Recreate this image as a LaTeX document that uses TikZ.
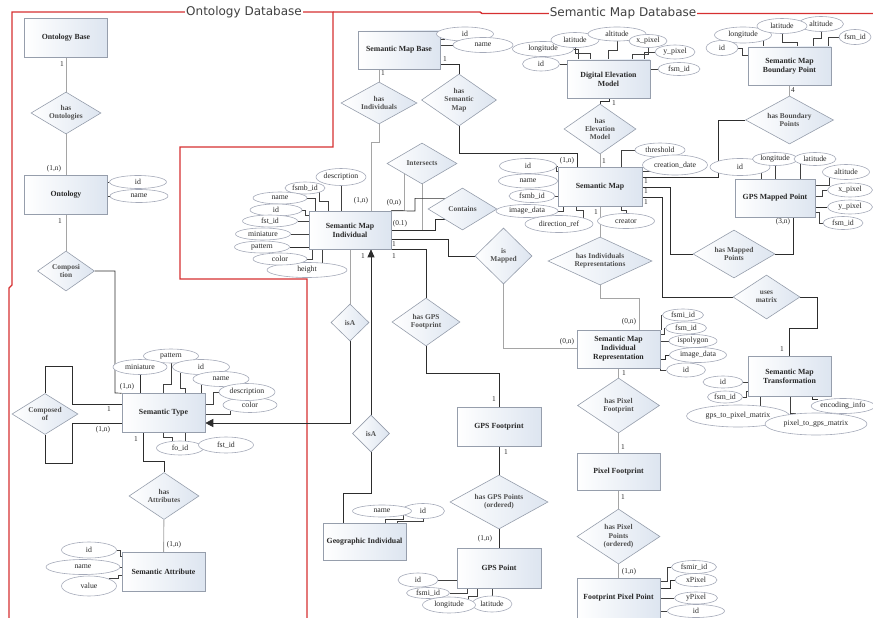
\documentclass[tikz,border=0pt]{standalone}
\usepackage{fontspec}
\setmainfont{Liberation Serif}
\newfontfamily\titlefont{DejaVu Sans}
\usetikzlibrary{shapes.geometric,arrows.meta,backgrounds}
\definecolor{frame}{RGB}{214,48,49}
\definecolor{entfill}{RGB}{221,229,240}
\definecolor{entdraw}{RGB}{150,158,172}
\definecolor{attdraw}{RGB}{165,170,185}
\definecolor{gline}{RGB}{165,165,165}
\definecolor{dline}{RGB}{45,45,45}
\definecolor{txt}{RGB}{40,40,40}
\definecolor{reltxt}{RGB}{80,80,80}
\begin{document}
\begin{tikzpicture}[x=1pt,y=-1pt,
 ent/.style={rectangle, draw=entdraw, line width=0.6pt, left color=white, right color=entfill, minimum width=83pt, minimum height=39pt, inner sep=1pt, align=center, text=txt, font=\fontsize{7.8}{9}\selectfont\bfseries},
 rel/.style={diamond, draw=entdraw, line width=0.6pt, left color=white, right color=entfill, inner sep=0pt},
 rlab/.style={align=center, text=reltxt, inner sep=0pt, font=\fontsize{7.4}{8.4}\selectfont\bfseries},
 att/.style={ellipse, draw=attdraw, line width=0.6pt, fill=white, inner sep=0pt, text=txt, font=\fontsize{7.8}{9}\selectfont},
 card/.style={text=txt, font=\fontsize{7.4}{8}\selectfont, inner sep=0pt},
 gl/.style={draw=gline, line width=0.9pt},
 dl/.style={draw=dline, line width=0.7pt},
 al/.style={draw=black!75, line width=0.6pt},
 redl/.style={draw=frame, line width=1.4pt},
 ttl/.style={fill=white, inner xsep=1pt, inner ysep=0pt, text=black!75, font=\titlefont\fontsize{12}{13}\selectfont}
]
\useasboundingbox (0,0) rectangle (873,618);

% ---------- entities ----------
\node[ent] (ob) at (66,38) {Ontology Base};
\node[ent] (ont) at (66,195) {Ontology};
\node[ent] (st) at (163.5,413) {Semantic Type};
\node[ent] (sa) at (163.5,572) {Semantic Attribute};
\node[ent, minimum width=82pt, minimum height=38pt] (smb) at (399,50) {Semantic Map Base};
\node[ent, minimum height=38pt] (dem) at (608.5,79) {Digital Elevation\\Model};
\node[ent, minimum height=38pt] (smbp) at (789.5,66) {Semantic Map\\Boundary Point};
\node[ent, minimum width=84pt] (sm) at (600,186.5) {Semantic Map};
\node[ent, minimum width=80pt, minimum height=38pt] (gmp) at (775,198) {GPS Mapped Point};
\node[ent, minimum width=82pt, minimum height=38pt] (smi) at (350,230) {Semantic Map\\Individual};
\node[ent, minimum height=38pt] (smir) at (618.5,349) {Semantic Map\\Individual\\Representation};
\node[ent, minimum height=40pt] (smt) at (789.5,376) {Semantic Map\\Transformation};
\node[ent, minimum width=84pt] (gf) at (499,426.5) {GPS Footprint};
\node[ent, minimum height=37pt] (pf) at (618.5,471.5) {Pixel Footprint};
\node[ent, minimum height=37pt] (gi) at (364.5,541.5) {Geographic Individual};
\node[ent, minimum width=84pt, minimum height=40pt] (gp) at (499,568) {GPS Point};
\node[ent, minimum height=40pt] (fpp) at (618.5,598) {Footprint Pixel Point};

% ---------- relationships ----------
\node[rel, minimum width=70pt, minimum height=42pt, label={[rlab]center:has\\Ontologies}] (hO) at (66,113) {};
\node[rel, minimum width=57pt, minimum height=40pt, label={[rlab]center:Composi\\tion}] (comp) at (66,271) {};
\node[rel, minimum width=66pt, minimum height=41pt, label={[rlab]center:Composed\\of}] (cof) at (45,414) {};
\node[rel, minimum width=70pt, minimum height=47pt, label={[rlab]center:has\\Attributes}] (hA) at (164,496) {};
\node[rel, minimum width=76pt, minimum height=42pt, label={[rlab]center:has\\Individuals}] (hI) at (379,103) {};
\node[rel, minimum width=75pt, minimum height=52pt, label={[rlab]center:has\\Semantic\\Map}] (hSM) at (459,100) {};
\node[rel, minimum width=72pt, minimum height=50pt, label={[rlab]center:has\\Elevation\\Model}] (hEM) at (600,129) {};
\node[rel, minimum width=88pt, minimum height=48pt, label={[rlab]center:has Boundary\\Points}] (hBP) at (789.5,120) {};
\node[rel, minimum width=70pt, minimum height=41pt, label={[rlab]center:Intersects}] (inter) at (422,163.5) {};
\node[rel, minimum width=69pt, minimum height=42pt, label={[rlab]center:Contains}] (cont) at (462.5,209) {};
\node[rel, minimum width=57pt, minimum height=56pt, label={[rlab]center:is\\Mapped}] (isM) at (503.5,256) {};
\node[rel, minimum width=104pt, minimum height=48pt, label={[rlab]center:has Individuals\\Representations}] (hIR) at (600,261) {};
\node[rel, minimum width=82pt, minimum height=48pt, label={[rlab]center:has Mapped\\Points}] (hMP) at (734,254) {};
\node[rel, minimum width=67pt, minimum height=44pt, label={[rlab]center:uses\\matrix}] (um) at (766.5,297) {};
\node[rel, minimum width=68pt, minimum height=48pt, label={[rlab]center:has GPS\\Footprint}] (hGF) at (426,322) {};
\node[rel, minimum width=38pt, minimum height=37pt, label={[rlab]center:isA}] (isA1) at (350,322.5) {};
\node[rel, minimum width=37pt, minimum height=37pt, label={[rlab]center:isA}] (isA2) at (371,433.5) {};
\node[rel, minimum width=82pt, minimum height=55pt, label={[rlab]center:has Pixel\\Footprint}] (hPF) at (618.5,405.5) {};
\node[rel, minimum width=98pt, minimum height=54pt, label={[rlab]center:has GPS Points\\(ordered)}] (hGP) at (499,502) {};
\node[rel, minimum width=83pt, minimum height=55pt, label={[rlab]center:has Pixel\\Points\\(ordered)}] (hPP) at (618.5,536.5) {};

% ---------- attributes ----------
% Ontology
\node[att, minimum width=57pt, minimum height=13pt] (oid) at (138,182) {id};
\node[att, minimum width=58pt, minimum height=13pt] (oname) at (139,196) {name};
% Semantic Map Base
\node[att, minimum width=57pt, minimum height=14pt] (sbid) at (465,34) {id};
\node[att, minimum width=60pt, minimum height=15pt] (sbname) at (483,45) {name};
% Digital Elevation Model
\node[att, minimum width=61pt, minimum height=15pt] (dlon) at (543,49) {longitude};
\node[att, minimum width=37pt, minimum height=14pt] (did) at (541,64) {id};
\node[att, minimum width=48pt, minimum height=15pt] (dlat) at (575,40) {latitude};
\node[att, minimum width=58pt, minimum height=14pt] (dalt) at (617,34) {altitude};
\node[att, minimum width=38pt, minimum height=13pt] (dxp) at (648,41) {x\_pixel};
\node[att, minimum width=40pt, minimum height=14pt] (dyp) at (675,52) {y\_pixel};
\node[att, minimum width=42pt, minimum height=13pt] (dfsm) at (679,69) {fsm\_id};
% Semantic Map Boundary Point
\node[att, minimum width=45pt, minimum height=15pt] (palt) at (821,24) {altitude};
\node[att, minimum width=57pt, minimum height=16pt] (plon) at (743,35) {longitude};
\node[att, minimum width=50pt, minimum height=15pt] (plat) at (782,26) {latitude};
\node[att, minimum width=32pt, minimum height=15pt] (pfsm) at (855,37) {fsm\_id};
\node[att, minimum width=32pt, minimum height=15pt] (pid) at (722,48) {id};
% Semantic Map
\node[att, minimum width=57pt, minimum height=15pt] (mid) at (528,166) {id};
\node[att, minimum width=59pt, minimum height=14pt] (mname) at (528,181) {name};
\node[att, minimum width=46pt, minimum height=13pt] (mfsmb) at (532,196) {fsmb\_id};
\node[att, minimum width=62pt, minimum height=13pt] (mimg) at (527,211) {image\_data};
\node[att, minimum width=68pt, minimum height=17pt] (mdir) at (559,224) {direction\_ref};
\node[att, minimum width=57pt, minimum height=15pt] (mcre) at (626,221) {creator};
\node[att, minimum width=50pt, minimum height=14pt] (mthr) at (660,150) {threshold};
\node[att, minimum width=65pt, minimum height=20pt] (mcd) at (675,165) {creation\_date};
% GPS Mapped Point
\node[att, minimum width=60pt, minimum height=17pt] (gid) at (740,167) {id};
\node[att, minimum width=45pt, minimum height=13pt] (glon) at (775,159) {longitude};
\node[att, minimum width=42pt, minimum height=13pt] (glat) at (815,159) {latitude};
\node[att, minimum width=47pt, minimum height=15pt] (galt) at (846,172) {altitude};
\node[att, minimum width=45pt, minimum height=14pt] (gxp) at (850,190) {x\_pixel};
\node[att, minimum width=45pt, minimum height=14pt] (gyp) at (850,207) {y\_pixel};
\node[att, minimum width=40pt, minimum height=13pt] (gfsm) at (843,223) {fsm\_id};
% Semantic Map Individual
\node[att, minimum width=50pt, minimum height=17pt] (idesc) at (341,177) {description};
\node[att, minimum width=40pt, minimum height=12pt] (ifsmb) at (305,188) {fsmb\_id};
\node[att, minimum width=54pt, minimum height=12pt] (iname) at (280,198) {name};
\node[att, minimum width=52pt, minimum height=12pt] (iid) at (276,210) {id};
\node[att, minimum width=55pt, minimum height=12pt] (ifst) at (270,221) {fst\_id};
\node[att, minimum width=55pt, minimum height=12pt] (imin) at (263,234) {miniature};
\node[att, minimum width=55pt, minimum height=12pt] (ipat) at (262,247) {pattern};
\node[att, minimum width=80pt, minimum height=15pt] (ihei) at (307,270) {height};
\node[att, minimum width=54pt, minimum height=12pt] (icol) at (280,259) {color};
% Semantic Type
\node[att, minimum width=55pt, minimum height=14pt] (tpat) at (171,356) {pattern};
\node[att, minimum width=54pt, minimum height=15pt] (tmin) at (140,367) {miniature};
\node[att, minimum width=57pt, minimum height=15pt] (tid) at (201,367) {id};
\node[att, minimum width=56pt, minimum height=15pt] (tname) at (221,379) {name};
\node[att, minimum width=54pt, minimum height=15pt] (tcol) at (250,405) {color};
\node[att, minimum width=56pt, minimum height=17pt] (tdesc) at (247,392) {description};
\node[att, minimum width=47pt, minimum height=14pt] (tfo) at (180,448) {fo\_id};
\node[att, minimum width=55pt, minimum height=16pt] (tfst) at (226,445) {fst\_id};
% Semantic Attribute
\node[att, minimum width=55pt, minimum height=16pt] (aid) at (89,550) {id};
\node[att, minimum width=55pt, minimum height=20pt] (aval) at (89,586) {value};
\node[att, minimum width=74pt, minimum height=15pt] (aname) at (83,567) {name};
% Semantic Map Individual Representation
\node[att, minimum width=41pt, minimum height=12pt] (rfsmi) at (683,315) {fsmi\_id};
\node[att, minimum width=41pt, minimum height=12pt] (rfsm) at (686,328) {fsm\_id};
\node[att, minimum width=48pt, minimum height=13pt] (rpoly) at (693,341) {ispolygon};
\node[att, minimum width=57pt, minimum height=15pt] (rimg) at (698,355) {image\_data};
\node[att, minimum width=39pt, minimum height=14pt] (rid) at (686,370) {id};
% Semantic Map Transformation
\node[att, minimum width=63pt, minimum height=15pt] (xenc) at (843,406) {encoding\_info};
\node[att, minimum width=103pt, minimum height=22pt] (xg2p) at (738,416) {gps\_to\_pixel\_matrix};
\node[att, minimum width=102pt, minimum height=22pt] (xp2g) at (816,424) {pixel\_to\_gps\_matrix};
\node[att, minimum width=35pt, minimum height=12pt] (xfsm) at (725,397) {fsm\_id};
\node[att, minimum width=40pt, minimum height=12pt] (xid) at (723,382) {id};
% Geographic Individual
\node[att, minimum width=43pt, minimum height=15pt] (gid2) at (423,511) {id};
\node[att, minimum width=59pt, minimum height=12pt] (gname) at (382,511) {name};
% GPS Point
\node[att, minimum width=40pt, minimum height=14pt] (qid) at (418,580) {id};
\node[att, minimum width=43pt, minimum height=11pt] (qfsmi) at (428,593) {fsmi\_id};
\node[att, minimum width=40pt, minimum height=16pt] (qlat) at (492,604) {latitude};
\node[att, minimum width=53pt, minimum height=16pt] (qlon) at (449,605) {longitude};
% Footprint Pixel Point
\node[att, minimum width=45pt, minimum height=13pt] (ffsmir) at (694,567) {fsmir\_id};
\node[att, minimum width=42pt, minimum height=13pt] (fxp) at (696,580) {xPixel};
\node[att, minimum width=43pt, minimum height=12pt] (fyp) at (696,598) {yPixel};
\node[att, minimum width=57pt, minimum height=13pt] (fid) at (696,611) {id};

% ---------- background: frames and connectors ----------
\begin{scope}[on background layer]
\draw[redl] (9,618) -- (9,288) -- (12,285) -- (12,12) -- (333,12) -- (333,147) -- (180,147) -- (180,279) -- (307,279) -- (307,618);
\draw[redl] (333,12) -- (480,12) -- (482,13.5) -- (873,13.5);

% ontology side
\draw[gl] (ob) -- (hO);
\draw[gl] (hO) -- (ont);
\draw[gl] (ont) -- (comp);
\draw[dl] (comp.east) -| (115,393) -- (st.north west);
\draw[dl] (cof.north) |- (72,366) |- (st.west |- 0,404);
\draw[dl] (cof.south) |- (72,463) |- (st.west |- 0,423);
\draw[dl] (st.south -| 143,0) |- (164,461) -- (hA.north);
\draw[gl] (hA) -- (sa);

% semantic map side
\draw[gl] (smb.south -| hI.north) -- (hI.north);
\draw[dl] (smb.east |- 0,64) -| (hSM.north);
\draw[gl] (hI.south) |- (371,142) -- (smi.north -| 371,0);
\draw[dl] (hSM.south) |- (577,153) -- (sm.north -| 577,0);
\draw[dl] (dem.south -| 609,0) |- (600,101) -- (hEM.north);
\draw[gl] (hEM) -- (sm);
\draw[gl] (smbp) -- (hBP);
\draw[dl] (hBP.west) -| (718,177) -- (sm.east |- 0,177);
\draw[dl] (sm.east |- 0,187) -| (670,254) -- (hMP.west);
\draw[dl] (sm.east |- 0,197) -| (662,297) -- (um.west);
\draw[dl] (hMP.east) -| (gmp.south -| 793,0);
\draw[dl] (um.east) -| (817,328) -| (smt.north -| 789,0);
\draw[gl] (sm) -- (hIR);
\draw[gl] (hIR.south) |- (639,298) -- (smir.north -| 639,0);
\draw[dl] (smi.east |- 0,239) -| (448,256) -- (isM.west);
\draw[gl] (isM.south) |- (smir.west |- 0,348);
\draw[gl] (inter.south west) |- (smi.north east);
\draw[gl] (inter.south) |- (smi.east |- 0,230);
\draw[dl] (smi.north east) -- (415,211) |- (cont.north west);
\draw[dl] (smi.east |- 0,230) -- (435,230) |- (cont.south west);
\draw[dl] (smi.south east) -| (hGF.north);
\draw[dl] (hGF.south) |- (499,373) -- (gf.north);
\draw[dl] (gf) -- (hGP);
\draw[dl] (hGP) -- (gp);
\draw[gl] (smir) -- (hPF);
\draw[gl] (hPF) -- (pf);
\draw[gl] (pf) -- (hPP);
\draw[gl] (hPP) -- (fpp);
\draw[gl] (smi.south -| isA1.north) -- (isA1.north);
\draw[dl, -{Triangle[length=8pt,width=8pt]}] (isA1.south) |- (st.east |- 0,423);
\draw[dl, -{Triangle[length=8pt,width=7pt]}] (isA2.north) -- (smi.south -| isA2.north);
\draw[dl] (gi.north -| 343,0) |- (371,493) -- (isA2.south);

% attribute connectors
\draw[al] (oid.west) -- (oid.west -| ont.east);
\draw[al] (oname.west) -- (oname.west -| ont.east);
\draw[al] (smb.east |- sbid.south west) -- (sbid.south west);
\draw[al] (smb.east |- sbname.west) -- (sbname.west);
\draw[al] (dlon.east) -| (dem.north -| 578,0);
\draw[al] (did.east) -- (did.east -| dem.west);
\draw[al] (dlat.south) |- (590,53) -- (dem.north -| 590,0);
\draw[al] (dalt.south) |- (608,50) -- (dem.north -| 608,0);
\draw[al] (dxp.south) |- (632,54) -- (dem.north -| 632,0);
\draw[al] (dyp.west) -| (dem.north -| 644,0);
\draw[al] (dfsm.west) -- (dfsm.west -| dem.east);
\draw[al] (plon.south east) -- (plon.south east |- smbp.north);
\draw[al] (plat.south) |- (797,42) -- (smbp.north -| 797,0);
\draw[al] (palt.south) |- (813,38) -- (smbp.north -| 813,0);
\draw[al] (pfsm.west) -| (smbp.north -| 828,0);
\draw[al] (pid.east) -| (742,55) -- (smbp.west |- 0,55);
\draw[al] (mid.east) -| (556.5,171) -- (sm.west |- 0,171);
\draw[al] (mname.east) -- (mname.east -| sm.west);
\draw[al] (mfsmb.east) -- (mfsmb.east -| sm.west);
\draw[al] (mimg.east) -| (sm.south -| 563,0);
\draw[al] (mdir.north east) |- (576,210) -- (sm.south -| 576,0);
\draw[al] (sm.south -| 621,0) |- (626,210) -- (mcre.north);
\draw[al] (mthr.west) -| (sm.north -| 621,0);
\draw[al] (sm.east |- 0,171) -- (mcd.south west |- 0,171);
\draw[al] (gid.south east) -- (gid.south east |- gmp.north);
\draw[al] (glon.south) -- (glon.south |- gmp.north);
\draw[al] (glat.south west) -- (glat.south west |- gmp.north);
\draw[al] (galt.south west) |- (gmp.east |- 0,185);
\draw[al] (gxp.west) -| (822,196) -- (gmp.east |- 0,196);
\draw[dl] (gyp.west) -- (gyp.west -| gmp.east);
\draw[al] (gfsm.west) -| (819,212) -- (gmp.east |- 0,212);
\draw[al] (idesc.south) -- (idesc.south |- smi.north);
\draw[al] (ifsmb.south east) |- (328,201) -- (smi.north -| 328,0);
\draw[al] (iname.east) -| (smi.north -| 315,0);
\draw[al] (iid.east) -| (305,215) -- (smi.west |- 0,215);
\draw[al] (ifst.east) -- (ifst.east -| smi.west);
\draw[al] (imin.east) -- (imin.east -| smi.west);
\draw[dl] (ipat.east) -- (ipat.east -| smi.west);
\draw[al] (icol.east) -| (smi.south -| 312,0);
\draw[al] (smi.south -| 322,0) -- (322,264);
\draw[dl] (tmin.south) -- (tmin.south |- st.north);
\draw[al] (tpat.south) |- (163,384) -- (st.north -| 163,0);
\draw[al] (tid.south west) |- (185,388) -- (st.north -| 185,0);
\draw[al] (tname.south west) -- (tname.south west |- st.north);
\draw[al] (tdesc.west) -| (213,404) -- (st.east |- 0,404);
\draw[al] (tcol.south west) |- (st.east |- 0,414);
\draw[al] (st.south -| 163,0) |- (172,437) -- (tfo.north -| 172,0);
\draw[al] (st.south -| 185,0) |- (tfst.west);
\draw[al] (aid.east) -| (120,556) -- (sa.west |- 0,556);
\draw[al] (aname.east) -- (aname.east -| sa.west);
\draw[al] (aval.north east) -| (118,575) -- (sa.west |- 0,575);
\draw[al] (rfsmi.west) -| (smir.north -| 661,0);
\draw[al] (rfsm.west) -| (664,334) -- (smir.east |- 0,334);
\draw[al] (rpoly.west) -- (rpoly.west -| smir.east);
\draw[dl] (rimg.west) -| (665,359) -- (smir.east |- 0,359);
\draw[al] (rid.west) -| (smir.east |- 0,366);
\draw[al] (xid.east) -- (xid.east -| smt.west);
\draw[al] (xfsm.east) -| (746,391) -- (smt.west |- 0,391);
\draw[al] (smt.south -| 760,0) -- (760,406);
\draw[al] (smt.south -| 790,0) |- (796,413);
\draw[dl] (smt.south -| 812,0) |- (818,399);
\draw[al] (gname.south east) |- (385,519) -- (gi.north -| 385,0);
\draw[al] (gid2.south) |- (397,521) -- (gi.north -| 397,0);
\draw[al] (qid.east) -- (qid.east -| gp.west);
\draw[al] (qfsmi.east) -| (gp.south -| 467,0);
\draw[al] (qlon.north east) |- (477,596) -- (gp.south -| 477,0);
\draw[al] (qlat.north) -- (qlat.north |- gp.south);
\draw[al] (ffsmir.west) -| (667,581) -- (fpp.east |- 0,581);
\draw[dl] (fxp.west) -| (670,588) -- (fpp.east |- 0,588);
\draw[al] (fyp.west) -- (fyp.west -| fpp.east);
\draw[al] (fid.west) -- (fid.west -| fpp.east);
\end{scope}

% ---------- titles ----------
\node[ttl] (t1) at (244,12) {Ontology Database};
\node[ttl] (t2) at (623,13) {Semantic Map Database};

% ---------- cardinalities ----------
\node[card] (c1) at (62,64) {1};
\node[card] (c2) at (54,169) {(1,n)};
\node[card] (c3) at (60,221) {1};
\node[card] (c4) at (127,387) {(1,n)};
\node[card] (c5) at (109,409) {1};
\node[card] (c6) at (103,430) {(1,n)};
\node[card] (c7) at (136,439) {1};
\node[card] (c8) at (174,545) {(1,n)};
\node[card] (c9) at (383,73) {1};
\node[card] (c10) at (445,59) {1};
\node[card] (c11) at (361,201) {(1,n)};
\node[card] (c12) at (567,161) {(1,n)};
\node[card] (c13) at (614,103) {1};
\node[card] (c14) at (604,161) {1};
\node[card] (c15) at (793,90) {4};
\node[card] (c16) at (646,181) {1};
\node[card] (c17) at (646,191) {1};
\node[card] (c18) at (646,202) {1};
\node[card] (c19) at (783,222) {(3,n)};
\node[card] (c20) at (782,349) {1};
\node[card] (c21) at (596,212) {1};
\node[card] (c22) at (629,322) {(0,n)};
\node[card] (c23) at (394,244) {1};
\node[card] (c24) at (567,342) {(0,n)};
\node[card] (c25) at (394,203) {(0,n)};
\node[card] (c26) at (400,224) {(0.1)};
\node[card] (c27) at (394,256) {1};
\node[card] (c28) at (363,256) {1};
\node[card] (c29) at (494,399) {1};
\node[card] (c30) at (506,452) {1};
\node[card] (c31) at (485,539) {(1,n)};
\node[card] (c32) at (624,373) {1};
\node[card] (c33) at (623,447) {1};
\node[card] (c34) at (623,497) {1};
\node[card] (c35) at (629,572) {(1,n)};
\end{tikzpicture}
\end{document}
